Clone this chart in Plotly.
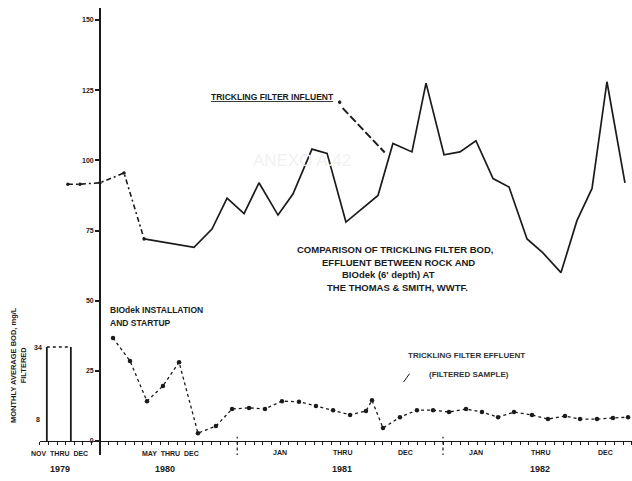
import plotly.graph_objects as go

# Positions along the time axis, in months counted from 1 Jan 1980
# (the 1979 readings sit in the compressed strip left of the BOD axis).
influent_month = [2.13, 2.83, 4.0, 5.4, 6.57, 9.48, 10.53, 11.41, 12.4, 13.27,
                  14.38, 15.25, 16.36, 17.24, 18.34, 20.21, 21.08, 22.19, 23.01,
                  24.06, 24.99, 25.92, 26.92, 27.85, 28.9, 29.83, 30.88, 31.81,
                  32.69, 33.56, 34.61]
influent_bod = [91.5, 91.5, 92.0, 95.5, 72.0, 69.0, 75.5, 86.5, 81.0, 92.0,
                80.5, 88.0, 104.0, 102.5, 78.0, 87.5, 106.0, 103.0, 127.5,
                102.0, 103.0, 107.0, 93.5, 90.5, 72.0, 67.0, 60.0, 78.5,
                90.0, 128.0, 92.0]

effluent_month = [4.76, 5.75, 6.74, 7.67, 8.61, 9.71, 10.76, 11.7, 12.69, 13.62,
                  14.61, 15.6, 16.59, 17.59, 18.58, 19.51, 19.86, 20.5, 21.49,
                  22.48, 23.42, 24.35, 25.34, 26.27, 27.21, 28.14, 29.19, 30.12,
                  31.11, 31.99, 32.98, 33.91, 34.79]
effluent_bod = [36.7, 28.5, 14.2, 19.6, 28.1, 2.8, 5.3, 11.4, 11.8, 11.4,
                14.2, 14.0, 12.5, 11.0, 9.3, 10.7, 14.5, 4.6, 8.5,
                11.0, 11.0, 10.3, 11.4, 10.3, 8.5, 10.3, 9.3, 7.8,
                8.9, 7.8, 7.8, 8.2, 8.5]

# 1979 rock-media period (Nov thru Dec), shown as a single block
rock_1979_span = [0.9, 2.3]
rock_1979_bod = 33.5

y_ticks = [0, 25, 50, 75, 100, 125, 150]
year_breaks = [12, 24]

INK = "#1b1b1b"
FONT = "Liberation Sans, Arial, sans-serif"

fig = go.Figure()

# 1979 block: solid sides, dotted top
x0, x1 = rock_1979_span
fig.add_trace(go.Scatter(x=[x0, x0, None, x1, x1], y=[0, rock_1979_bod, None, 0, rock_1979_bod],
                         mode="lines", line=dict(color=INK, width=1.8), hoverinfo="skip"))
fig.add_trace(go.Scatter(x=[x0, x1], y=[rock_1979_bod, rock_1979_bod],
                         mode="lines", line=dict(color=INK, width=1.4, dash="dot"), hoverinfo="skip"))

# Influent: dashed start-up stretch, then solid
n_dash = 5
fig.add_trace(go.Scatter(
    x=influent_month[:n_dash], y=influent_bod[:n_dash], mode="lines+markers",
    line=dict(color=INK, width=1.6, dash="5px,3px,2px,3px"),
    marker=dict(size=3.5, color=INK)))
fig.add_trace(go.Scatter(
    x=influent_month[n_dash - 1:], y=influent_bod[n_dash - 1:], mode="lines",
    line=dict(color=INK, width=1.7)))

# Effluent (filtered sample): dotted with point markers
fig.add_trace(go.Scatter(
    x=effluent_month, y=effluent_bod, mode="lines+markers",
    line=dict(color=INK, width=1.3, dash="dot"),
    marker=dict(size=4.5, color=INK)))

# Year separators below the time axis
for xb in year_breaks:
    fig.add_shape(type="line", xref="x", yref="y", x0=xb, x1=xb, y0=-5.5, y1=1.5,
                  line=dict(color=INK, width=1.2, dash="dot"))

# Leader from the influent label to the curve
fig.add_shape(type="line", xref="x", yref="y", x0=18.15, y0=118.6, x1=20.6, y1=102.8,
              line=dict(color=INK, width=2, dash="8px,3px"))
fig.add_shape(type="circle", xref="x", yref="y", x0=17.90, y0=120.2, x1=18.05, y1=121.2,
              fillcolor=INK, line=dict(color=INK, width=1))
fig.add_shape(type="line", xref="x", yref="y", x0=21.7, y0=21.0, x1=22.05, y1=24.0,
              line=dict(color=INK, width=1))

def txt(x, y, s, size=8, anchor="center", angle=0, color=INK, family=FONT):
    fig.add_annotation(x=x, y=y, xref="paper", yref="paper", text=s, showarrow=False,
                       xanchor=anchor, yanchor="middle", textangle=angle,
                       font=dict(family=family, size=size, color=color))

W, H = 632.0, 481.0
def px(xp, yp, s, **k):
    txt(xp / W, 1 - yp / H, s, **k)

px(302, 160, "ANEXO A.42", size=17, color="#f1f1f1", family="Liberation Sans, sans-serif")
px(209, 97, "<b><u>TRICKLING FILTER INFLUENT</u></b>", size=8.5, anchor="left")
px(395, 249, "<b>COMPARISON OF TRICKLING FILTER BOD,</b>", size=9.5)
px(398, 262, "<b>EFFLUENT BETWEEN ROCK AND</b>", size=9.5)
px(388, 274, "<b>BIOdek (6' depth) AT</b>", size=9.5)
px(397, 287, "<b>THE THOMAS & SMITH, WWTF.</b>", size=9.5)
px(108, 310, "<b>BIOdek INSTALLATION</b>", size=8.5, anchor="left")
px(108, 323, "<b>AND STARTUP</b>", size=8.5, anchor="left")
px(466, 355, "<b>TRICKLING FILTER EFFLUENT</b>", size=8, color="#333")
px(469, 374, "<b>(FILTERED SAMPLE)</b>", size=8, color="#333")
px(18, 365, "<b>MONTHLY AVERAGE BOD, mg/L</b><br><b>FILTERED</b>", size=7.5, angle=-90)
px(38, 347, "<b>34</b>", size=7)
px(38, 419, "<b>8</b>", size=7)
px(59, 453, "<b>NOV  THRU  DEC</b>", size=7)
px(60, 469, "<b>1979</b>", size=9)
px(170, 453, "<b>MAY  THRU  DEC</b>", size=7)
px(165, 469, "<b>1980</b>", size=9)
px(280, 452, "<b>JAN</b>", size=7)
px(342, 452, "<b>THRU</b>", size=7)
px(405, 452, "<b>DEC</b>", size=7)
px(342, 469, "<b>1981</b>", size=9)
px(476, 452, "<b>JAN</b>", size=7)
px(540, 452, "<b>THRU</b>", size=7)
px(605, 452, "<b>DEC</b>", size=7)
px(540, 469, "<b>1982</b>", size=9)

# Time axis runs from the 1979 block to the right edge
x_left_px, x_right_px, month_px, axis_px = 40.0, 632.0, 17.15, 100.0
t_left = 4 + (x_left_px - axis_px) / month_px
t_right = 4 + (x_right_px - axis_px) / month_px

# BOD axis: 0 at y=441 px, 150 at y=20 px
bod_px = (441 - 20) / 150.0
y_top_px, y_bot_px = 8.0, 455.0
y_hi = (441 - y_top_px) / bod_px
y_lo = (441 - y_bot_px) / bod_px

fig.update_layout(
    width=632, height=481, margin=dict(l=0, r=0, t=0, b=0),
    paper_bgcolor="white", plot_bgcolor="rgba(0,0,0,0)",
    showlegend=False,
    xaxis=dict(domain=[x_left_px / W, 1], range=[t_left, t_right],
               anchor="free", position=(481 - 441) / H,
               showline=True, linecolor=INK, linewidth=1.4,
               ticks="outside", ticklen=3, tickwidth=1.2, tickcolor=INK,
               tick0=0, dtick=0.5, showticklabels=False,
               showgrid=False, zeroline=False),
    yaxis=dict(domain=[1 - y_bot_px / H, 1 - y_top_px / H], range=[y_lo, y_hi],
               anchor="free", position=axis_px / W,
               showline=True, linecolor=INK, linewidth=1.8,
               ticks="outside", ticklen=4, tickwidth=1.5, tickcolor=INK,
               tickvals=y_ticks, ticktext=[f"<b>{v}</b>" for v in y_ticks],
               tickfont=dict(family=FONT, size=7, color=INK),
               showgrid=False, zeroline=False),
)

fig.write_html("out.html")
